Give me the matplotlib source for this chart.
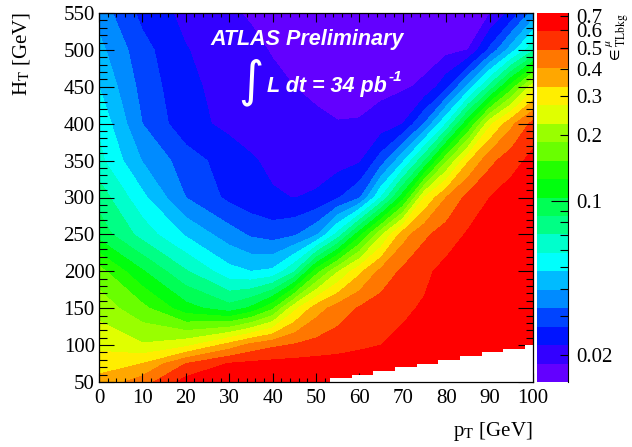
import colorsys

import numpy as np
import matplotlib
matplotlib.use("Agg")
import matplotlib.pyplot as plt

plt.rcParams["font.family"] = ["Liberation Serif", "DejaVu Serif"]
plt.rcParams["mathtext.fontset"] = "stix"

W, H = 632, 447

# grid nodes (GeV)
pt_nodes = [0, 10, 20, 30, 35, 40, 45, 50, 55, 60, 65, 70, 75, 80, 85, 90, 95, 100]
ht_nodes = [50, 75, 100, 150, 200, 250, 300, 350, 400, 450, 500, 550]

# efficiency per HT row, one value per pt node
eff_ht50 = [0.352, 0.444, 0.641, 0.654, 0.660, 0.666, 0.673, 0.679, 0.686, 0.693, 0.699, 0.706,
            0.706, 0.706, 0.706, 0.706, 0.706, 0.706]
eff_ht75 = [0.307, 0.332, 0.489, 0.599, 0.617, 0.629, 0.635, 0.641, 0.647, 0.654, 0.660, 0.666,
            0.673, 0.679, 0.693, 0.693, 0.706, 0.706]
eff_ht100 = [0.258, 0.230, 0.258, 0.359, 0.427, 0.470, 0.498, 0.523, 0.544, 0.571, 0.593, 0.617,
             0.635, 0.654, 0.679, 0.693, 0.706, 0.706]
eff_ht150 = [0.209, 0.162, 0.112, 0.0925, 0.108, 0.147, 0.258, 0.366, 0.440, 0.498, 0.539, 0.576,
             0.605, 0.641, 0.666, 0.693, 0.706, 0.706]
eff_ht200 = [0.165, 0.106, 0.0720, 0.0513, 0.0479, 0.0498, 0.0692, 0.139, 0.221, 0.316, 0.427,
             0.508, 0.571, 0.629, 0.666, 0.693, 0.706, 0.706]
eff_ht250 = [0.0962, 0.0653, 0.0467, 0.0355, 0.0316, 0.0298, 0.0316, 0.0380, 0.0622, 0.117,
             0.217, 0.369, 0.470, 0.539, 0.605, 0.654, 0.693, 0.706]
eff_ht300 = [0.0793, 0.0504, 0.0325, 0.0256, 0.0236, 0.0225, 0.0220, 0.0227, 0.0263, 0.0317,
             0.0587, 0.116, 0.276, 0.403, 0.518, 0.593, 0.654, 0.693]
eff_ht350 = [0.0616, 0.0391, 0.0295, 0.0243, 0.0225, 0.0213, 0.0205, 0.0201, 0.0203, 0.0215,
             0.0293, 0.0461, 0.0840, 0.179, 0.323, 0.461, 0.549, 0.629]
eff_ht400 = [0.0559, 0.0325, 0.0236, 0.0211, 0.0205, 0.0199, 0.0193, 0.0187, 0.0183, 0.0184,
             0.0197, 0.0221, 0.0329, 0.0582, 0.121, 0.258, 0.384, 0.518]
eff_ht450 = [0.0479, 0.0304, 0.0230, 0.0207, 0.0199, 0.0189, 0.0182, 0.0177, 0.0173, 0.0172,
             0.0173, 0.0177, 0.0189, 0.0251, 0.0419, 0.0748, 0.139, 0.253]
eff_ht500 = [0.0419, 0.0287, 0.0223, 0.0199, 0.0189, 0.0180, 0.0173, 0.0169, 0.0165, 0.0164,
             0.0164, 0.0165, 0.0167, 0.0172, 0.0182, 0.0279, 0.0435, 0.0679]
eff_ht550 = [0.0365, 0.0253, 0.0209, 0.0186, 0.0179, 0.0172, 0.0167, 0.0164, 0.0162, 0.0161,
             0.0161, 0.0162, 0.0165, 0.0169, 0.0173, 0.0180, 0.0234, 0.0352]

# empty region (HT below pt), staircase
empty_pt_edges = [53.2, 58.2, 63.2, 68.2, 73.2, 78.2, 83.2, 88.2, 93.2, 98.2, 100]
empty_ht_top = [55, 60, 65, 70, 75, 80, 85, 90, 95, 100]

# z axis
z_min, z_max = 0.015, 0.72
n_contours = 20
z_major = [0.1]
z_minor = [0.02, 0.03, 0.04, 0.05, 0.06, 0.07, 0.08, 0.09, 0.2, 0.3, 0.4, 0.5, 0.6, 0.7]
z_minor_labels = ["0.02", "", "", "", "", "", "", "", "0.2", "0.3", "0.4", "0.5", "0.6", "0.7"]


def root_palette(n):
    """ROOT 'pretty' palette (50 hues), sampled the way COLZ picks colours."""
    base = [colorsys.hls_to_rgb((280 - (i + 1) * 5.6) / 360, 0.5, 1.0) for i in range(50)]
    return [base[int((k + 0.99) * 50 / n)] for k in range(n)]


def fx(px):
    return px / W


def fy(py):
    return 1 - py / H


fig = plt.figure(figsize=(W / 100, H / 100), dpi=100)
ax = fig.add_axes([fx(99), fy(382), (533 - 99) / W, (382 - 13) / H])
cax = fig.add_axes([fx(537), fy(382), 31 / W, (382 - 13) / H])

Z = np.log10(np.array([eff_ht50, eff_ht75, eff_ht100, eff_ht150, eff_ht200, eff_ht250,
                       eff_ht300, eff_ht350, eff_ht400, eff_ht450, eff_ht500, eff_ht550]))
levels = np.linspace(np.log10(z_min), np.log10(z_max), n_contours + 1)
cs = ax.contourf(pt_nodes, ht_nodes, Z, levels=levels, colors=root_palette(n_contours))

ax.stairs(empty_ht_top, empty_pt_edges, baseline=50, fill=True, color="white", zorder=3)

ax.set_xlim(0, 100)
ax.set_ylim(50, 550)
ax.set_xticks(np.arange(0, 101, 10))
ax.set_xticks(np.arange(0, 101, 2), minor=True)
ax.set_yticks(np.arange(50, 551, 50))
ax.set_yticks(np.arange(50, 551, 10), minor=True)
ax.tick_params(which="both", direction="in", top=True, right=True, width=0.8,
               labelsize=15)
ax.tick_params(axis="x", which="major", length=6.2, pad=5)
ax.tick_params(axis="x", which="minor", length=3.1)
ax.tick_params(axis="y", which="major", length=10.8, pad=3)
ax.tick_params(axis="y", which="minor", length=5.4)
for sp in ax.spines.values():
    sp.set_linewidth(0.9)
    sp.set_zorder(5)

# palette axis
cb = fig.colorbar(cs, cax=cax)
cb.outline.set_visible(False)
cax.yaxis.set_ticks(np.log10(z_major), labels=["0.1"])
cax.yaxis.set_ticks(np.log10(z_minor), labels=z_minor_labels, minor=True)
cax.yaxis.tick_right()
cax.tick_params(which="both", direction="in", right=True, left=False, width=0.8,
                labelsize=15, pad=6)
cax.tick_params(which="major", length=12)
cax.tick_params(which="minor", length=5.8)
cax.plot([1, 1], [0, 1], transform=cax.transAxes, color="black", lw=0.8, clip_on=False)

# axis titles
fig.text(fx(533), fy(436), r"p$_{\mathrm{T}}$ [GeV]", ha="right", va="baseline", fontsize=15)
fig.text(fx(22), fy(12), r"H$_{\mathrm{T}}$ [GeV]", rotation=90, ha="center", va="top",
         fontsize=15)
fig.text(fx(618), fy(13), r"$\in^{\mu}_{\mathrm{TLbkg}}$", rotation=90, ha="center",
         va="top", fontsize=12)

# labels inside the frame
sans = ["Liberation Sans", "DejaVu Sans"]
fig.text(fx(210), fy(45), "ATLAS Preliminary", color="white", fontsize=15.5,
         fontweight="bold", fontstyle="italic", family=sans, ha="left", va="baseline")
fig.text(fx(251), fy(82), "\u222b", color="white", fontsize=35, family=["DejaVu Sans"],
         ha="center", va="center")
fig.text(fx(267), fy(92), "L dt = 34 pb", color="white", fontsize=15.5,
         fontweight="bold", fontstyle="italic", family=sans, ha="left", va="baseline")
fig.text(fx(389), fy(81), "-1", color="white", fontsize=11,
         fontweight="bold", fontstyle="italic", family=sans, ha="left", va="baseline")

fig.savefig("out.png", dpi=100)
